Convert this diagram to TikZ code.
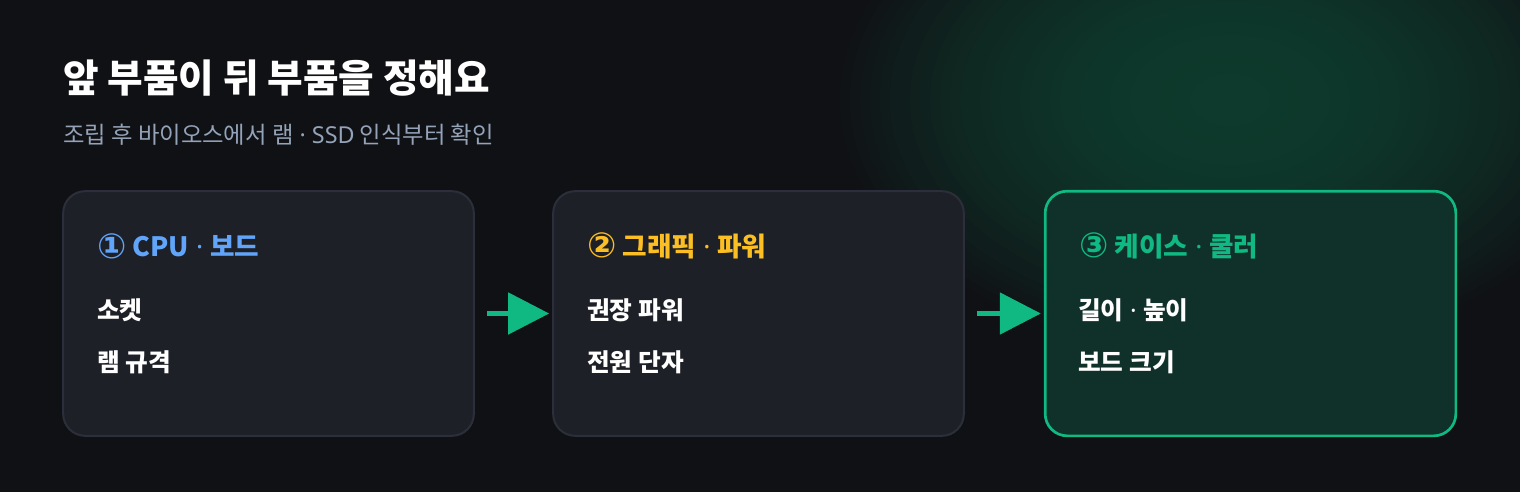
\documentclass[tikz,border=0pt]{standalone}
\usepackage{fontspec}
\setmainfont{Noto Sans CJK KR}
\newfontfamily\latinfont{Noto Sans}
\newfontfamily\numfont{DejaVu Sans}
\newcommand{\mdot}{{\latinfont\ ·\ }}
\newcommand{\stepno}[1]{{\numfont\fontsize{26}{26}\selectfont\raisebox{-1.2pt}{#1}}}
\usetikzlibrary{arrows.meta,positioning}
\definecolor{bgc}{HTML}{101115}
\definecolor{glowc}{HTML}{0D3A2C}
\definecolor{cardfill}{HTML}{1E2028}
\definecolor{cardline}{HTML}{2C2F3A}
\definecolor{donefill}{HTML}{10302A}
\definecolor{emerald}{HTML}{10B981}
\definecolor{skyblue}{HTML}{60A5FA}
\definecolor{amber}{HTML}{FBBF24}
\definecolor{slate}{HTML}{94A3B8}
\tikzset{
    every node/.style={align=left,inner sep=0pt},
    card/.style={draw=cardline,fill=cardfill,line width=1.5pt,rounded corners=16.5pt,
        minimum width=308pt,minimum height=183.5pt},
    donecard/.style={card,draw=emerald,fill=donefill,line width=2pt},
    head/.style={anchor=west,font=\fontsize{20}{24}\selectfont\bfseries},
    item/.style={anchor=west,text=white,font=\fontsize{18.5}{22}\selectfont\bfseries},
    flow/.style={emerald,line width=3.75pt,-{Triangle[length=30.75pt,width=30.75pt]},
        shorten <=9pt,shorten >=2.25pt},
}
\begin{document}
\begin{tikzpicture}[x=0.75pt,y=-0.75pt]
        \useasboundingbox (0,0) rectangle (1520,492);
        \fill[bgc] (0,0) rectangle (1520,492);
        \begin{scope}
            \clip (0,0) rectangle (1520,492);
            \foreach \i [evaluate=\i as \mix using int(100*(1-(1-\i/39)^2))] in {0,...,39}
                \fill[glowc!\mix!bgc] (1230,100) ellipse [x radius=400-\i*10, y radius=260-\i*6.5];
        \end{scope}

        \node[anchor=west,text=white,font=\fontsize{29}{33}\selectfont\bfseries] (title) at (63,78) {앞 부품이 뒤 부품을 정해요};
        \node[anchor=west,text=slate,font=\fontsize{17.5}{21}\selectfont] (subtitle) at (63,135) {조립 후 바이오스에서 램\mdot{}{\latinfont SSD} 인식부터 확인};

        \node[card] (cpu) at (268.5,313.5) {};
        \node[card] (gpu) at (758.5,313.5) {};
        \node[donecard] (case) at (1250.5,313.5) {};

        \node[head,text=skyblue] (cpu_head) at (97,246) {\stepno{①} CPU\mdot{}보드};
        \node[item] (socket) at (97,310) {소켓};
        \node[item] (ram) at (97,362) {램 규격};

        \node[head,text=amber] (gpu_head) at (587,246) {\stepno{②} 그래픽\mdot{}파워};
        \node[item] (power) at (587,310) {권장 파워};
        \node[item] (plug) at (587,362) {전원 단자};

        \node[head,text=emerald] (case_head) at (1079,246) {\stepno{③} 케이스\mdot{}쿨러};
        \node[item] (length) at (1078,310) {길이\mdot{}높이};
        \node[item] (board) at (1078,362) {보드 크기};

        \draw[flow] (cpu) -- (gpu);
        \draw[flow] (gpu) -- (case);
    \end{tikzpicture}
\end{document}
